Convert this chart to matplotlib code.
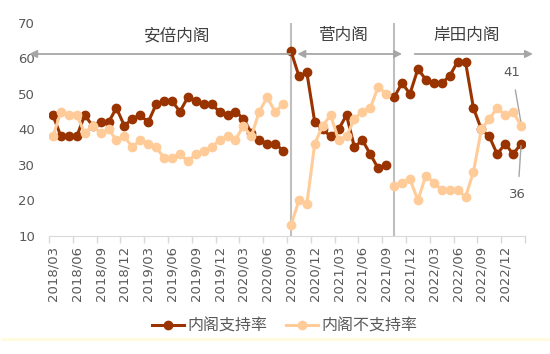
"""日本内阁支持率与不支持率（2018/03 - 2023/02）"""

import numpy as np
import pandas as pd
import matplotlib.pyplot as plt
from matplotlib.lines import Line2D

# 月份（类别轴）
months = pd.period_range('2018-03', '2023-02', freq='M').strftime('%Y/%m').tolist()

# 各内阁的起始月份索引
cabinets = ['安倍内阁', '菅内阁', '岸田内阁']
cabinet_start = [0, 30, 43]

# 支持率 / 不支持率 [%]
abe_support = [44, 38, 38, 38, 44, 41, 42, 42, 46, 41, 43, 44, 42, 47, 48, 48, 45, 49,
               48, 47, 47, 45, 44, 45, 43, 39, 37, 36, 36, 34]
abe_oppose = [38, 45, 44, 44, 39, 41, 39, 40, 37, 38, 35, 37, 36, 35, 32, 32, 33, 31,
              33, 34, 35, 37, 38, 37, 41, 38, 45, 49, 45, 47]
suga_support = [62, 55, 56, 42, 40, 38, 40, 44, 35, 37, 33, 29, 30]
suga_oppose = [13, 20, 19, 36, 41, 44, 37, 38, 43, 45, 46, 52, 50]
kishida_support = [49, 53, 50, 57, 54, 53, 53, 55, 59, 59, 46, 40, 38, 33, 36, 33, 36]
kishida_oppose = [24, 25, 26, 20, 27, 25, 23, 23, 23, 21, 28, 40, 43, 46, 44, 45, 41]

support = [abe_support, suga_support, kishida_support]
oppose = [abe_oppose, suga_oppose, kishida_oppose]

dark = '#993300'
light = '#FFCC99'
grey_txt = '#595959'
grey_line = '#BFBFBF'
arrow_col = '#A6A6A6'
cjk = ['Noto Sans CJK SC', 'DejaVu Sans']

fig = plt.figure(figsize=(5.5, 3.54), dpi=100)
ax = fig.add_axes([49 / 550, 1 - 236 / 354, 476 / 550, 213.3 / 354])

# 内阁交替的竖线
for s in cabinet_start[1:]:
    ax.axvline(s, color=grey_line, lw=1.5, zorder=1)

# 曲线（每届内阁单独一段）
for k, (s, vals) in enumerate(zip(cabinet_start, support)):
    x = np.arange(s, s + len(vals))
    ax.plot(x, vals, color=dark, lw=2.2, marker='o', ms=6, zorder=3,
            label='内阁支持率' if k == 0 else None)
for k, (s, vals) in enumerate(zip(cabinet_start, oppose)):
    x = np.arange(s, s + len(vals))
    ax.plot(x, vals, color=light, lw=2.2, marker='o', ms=6, zorder=4,
            label='内阁不支持率' if k == 0 else None)

# 坐标轴
n = len(months)
ax.set_xlim(-0.5, n - 0.5)
ax.set_ylim(10, 70)
ax.set_yticks(range(10, 71, 10))
ax.set_xticks(np.arange(0, n, 3))
ax.set_xticklabels(months[::3], rotation=90)
ax.set_xticks(np.arange(-0.5, n, 3), minor=True)
ax.tick_params(axis='x', which='major', length=0, pad=7, labelsize=9.5, labelcolor=grey_txt)
ax.tick_params(axis='x', which='minor', length=5, width=1, color='#D9D9D9')
ax.tick_params(axis='y', length=0, pad=10, labelsize=9.5, labelcolor=grey_txt)
for side in ['top', 'right', 'left']:
    ax.spines[side].set_visible(False)
ax.spines['bottom'].set_color('#D9D9D9')

# 内阁名称与箭头
y_arrow = 61.2
arrows = [(-3.0, 29.9, '<|-'), (30.8, 44.0, '<|-|>'), (45.6, 60.5, '-|>')]
for (x0, x1, style) in arrows:
    ax.annotate('', xy=(x1, y_arrow), xytext=(x0, y_arrow), annotation_clip=False,
                arrowprops=dict(arrowstyle=style, color=arrow_col, lw=1.3,
                                shrinkA=0, shrinkB=0, mutation_scale=11))
for name, xt in zip(cabinets, [15.6, 36.5, 52.2]):
    ax.text(xt, 66.4, name, ha='center', va='center', fontsize=12,
            color='#404040', family=cjk)

# 最新数值标注
ax.annotate('41', xy=(59.0, 41.8), xytext=(57.9, 56.0), ha='center', va='center',
            fontsize=9.5, color=grey_txt, annotation_clip=False,
            arrowprops=dict(arrowstyle='-', color=arrow_col, lw=1, shrinkA=6, shrinkB=0))
ax.annotate('36', xy=(59.0, 35.4), xytext=(58.6, 21.8), ha='center', va='center',
            fontsize=9.5, color=grey_txt, annotation_clip=False,
            arrowprops=dict(arrowstyle='-', color=arrow_col, lw=1, shrinkA=6, shrinkB=0))

# 图例
fig.legend(loc='center', bbox_to_anchor=(0.518, 0.079), ncol=2, frameon=False,
           prop={'family': cjk, 'size': 11.5}, labelcolor=grey_txt,
           handlelength=2.0, handletextpad=0.2, columnspacing=1.2)

# 底部淡黄色边线
fig.add_artist(Line2D([0.006, 1.0], [1 - 339 / 354] * 2, color='#FFFBDC', lw=2))

fig.savefig('out.png', dpi=100)
